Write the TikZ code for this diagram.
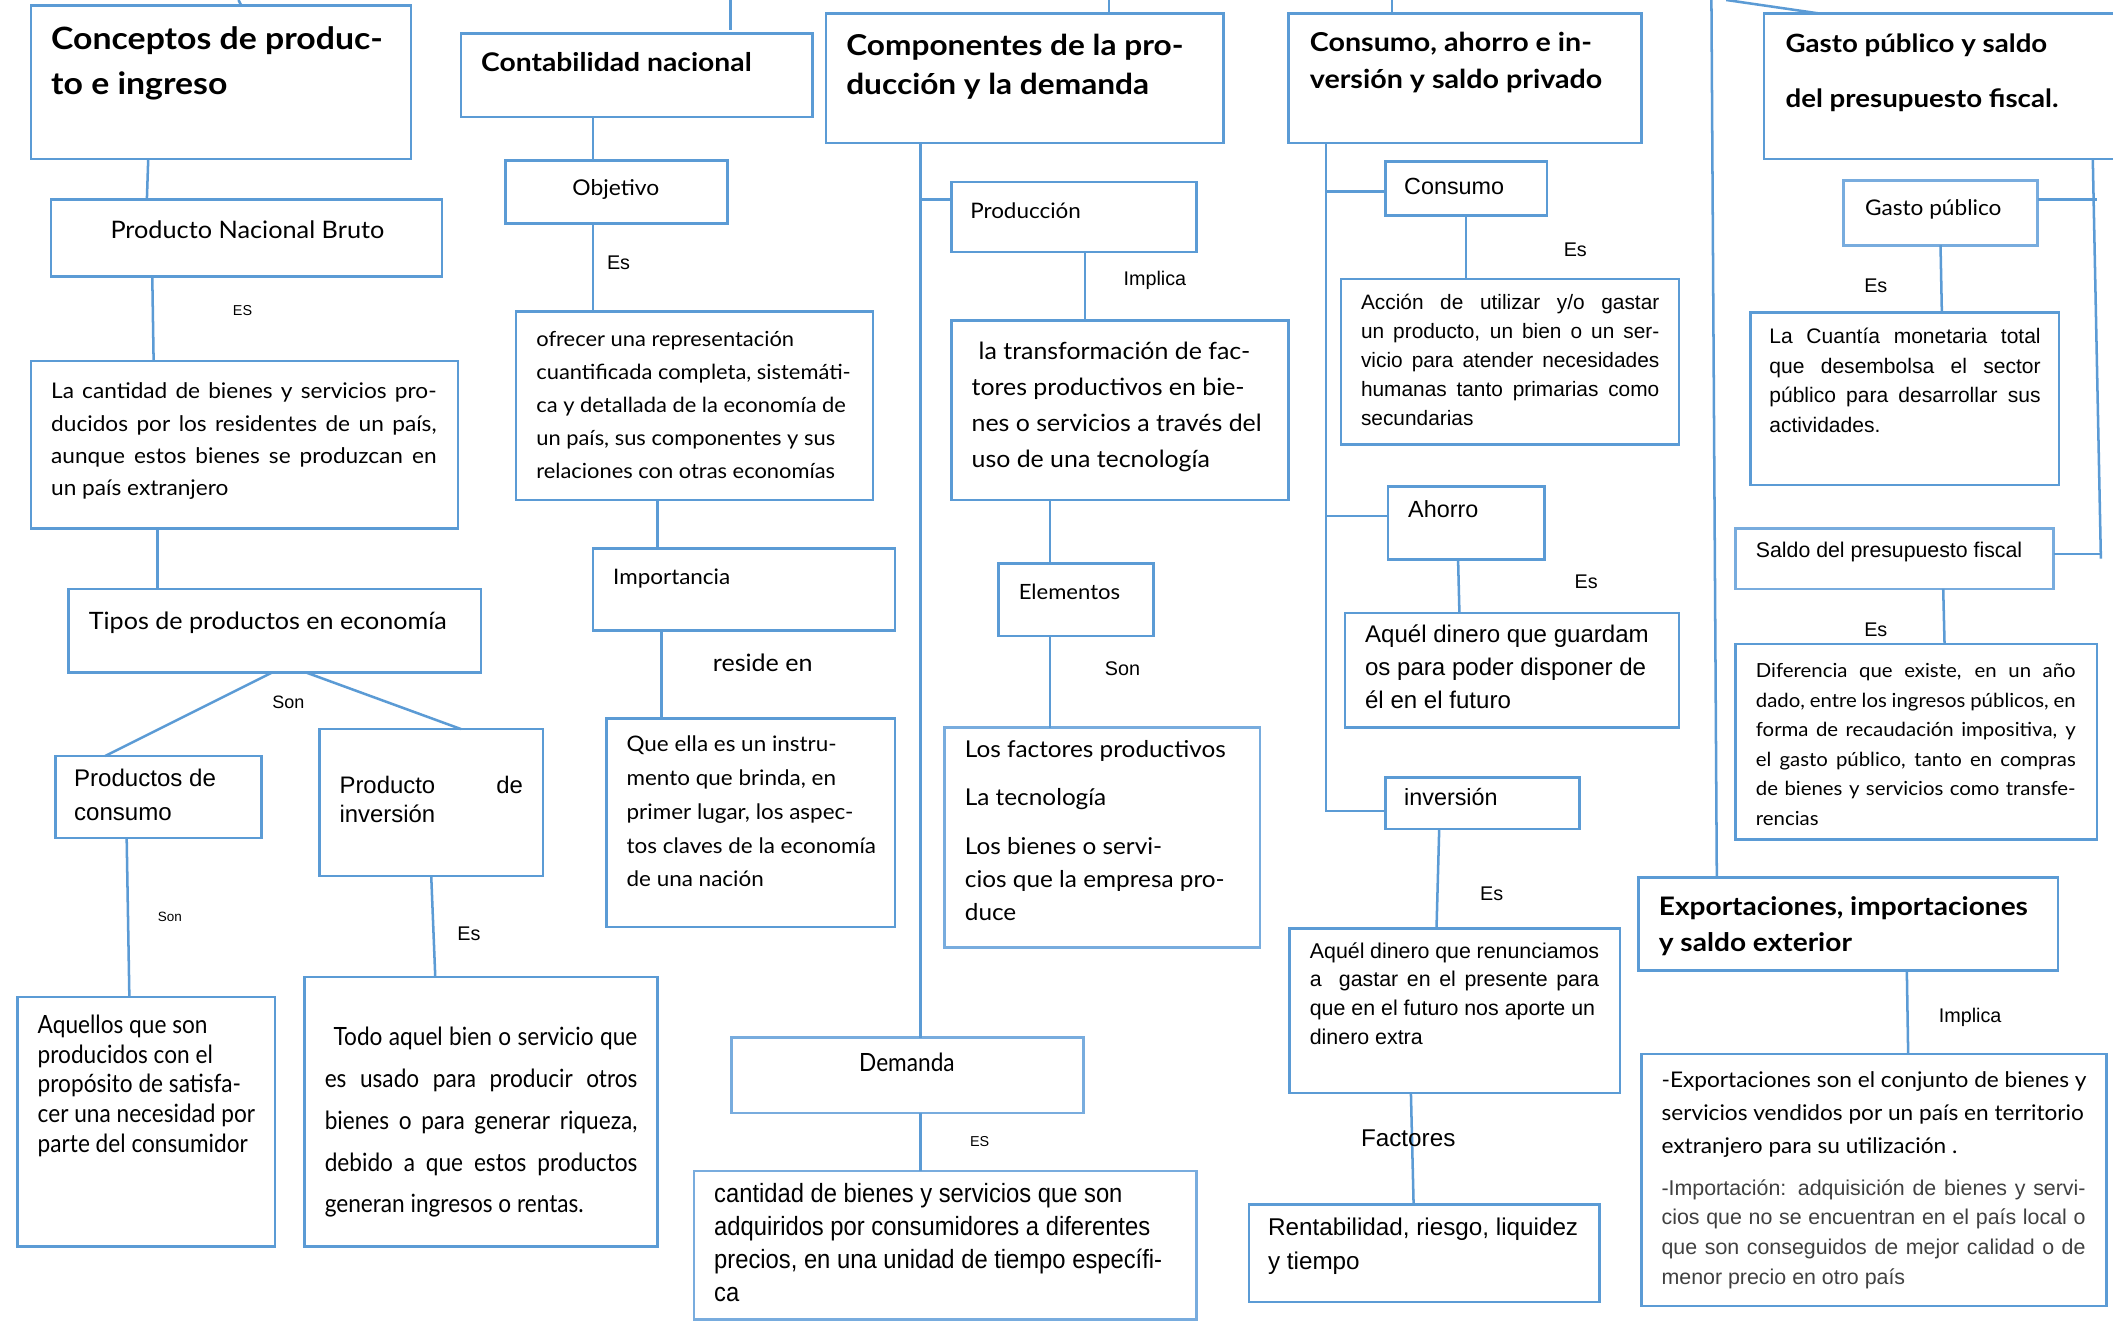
\documentclass[tikz,border=0pt]{standalone}
\usepackage{fontspec}
\setmainfont{Lato}
\newfontfamily\gil[FakeStretch=1.05]{Lato}
\newfontfamily\gb[FakeStretch=1.1]{Lato}
\newfontfamily\gnr[FakeStretch=0.9]{Lato}
\newfontfamily\ar{Liberation Sans}
\newfontfamily\arn[FakeStretch=0.9]{Liberation Sans}
\usetikzlibrary{fit,calc}
\definecolor{bl}{RGB}{91,155,213}
\definecolor{bll}{RGB}{120,172,222}
\definecolor{gry}{RGB}{64,64,64}
\newcommand{\fsz}[1]{\fontsize{#1}{#1}\selectfont}
\newcommand{\jl}[1]{\makebox[\linewidth][s]{#1}}
\newcommand{\tbk}[3]{\parbox[t]{#1}{\raggedright\setlength{\baselineskip}{#2}#3}}
\begin{document}
\begin{tikzpicture}[x=0.75pt,y=-0.75pt,
  bx/.style={draw=bl,line width=1.4pt,inner sep=0pt,outer sep=0pt},
  bxl/.style={bx,draw=bll},
  ln/.style={draw=bl,line width=1.4pt},
  tx/.style={anchor=base west,inner sep=0pt,outer sep=0pt},
  lab/.style={anchor=base,inner sep=0pt,outer sep=0pt}]
\useasboundingbox (0,0) rectangle (1568,980);
\clip (0,0) rectangle (1568,980);
\fill[white] (0,0) rectangle (1568,980);

% ---------- column 1
\node[bx,fit={(23,4)(305,118)}] (c1) {};
\node[tx,font=\gb\bfseries\fsz{17.1}] (c1t) at (38,37) {\tbk{250pt}{24.75pt}{Conceptos de produc-\\to e ingreso}};
\node[bx,fit={(38,148)(328,205)}] (pnb) {};
\node[tx,font=\gil\fsz{13.4}] (pnbt) at (82,177) {Producto Nacional Bruto};
\node[lab,font=\ar\fsz{8}] (es1) at (180,234) {ES};
\node[bx,fit={(23,268)(340,392)}] (pnbd) {};
\node[tx,font=\gil\fsz{12}] (pnbdt) at (38,296) {\tbk{214.5pt}{18pt}{\jl{La cantidad de bienes y servicios pro-}\\\jl{ducidos por los residentes de un país,}\\\jl{aunque estos bienes se produzcan en}\\un país extranjero}};
\node[bx,fit={(51,437)(357,499)}] (tip) {};
\node[tx,font=\gil\fsz{13.3}] (tipt) at (66,467) {Tipos de productos en economía};
\node[lab,font=\ar\fsz{10}] (son1) at (214,526) {Son};
\node[bx,fit={(41,561)(194,622)}] (pc) {};
\node[tx,font=\ar\fsz{13.4}] (pct) at (55,584) {\tbk{110pt}{18.75pt}{Productos de\\consumo}};
\node[bx,fit={(237,541)(403,650)}] (pi) {};
\node[tx,font=\ar\fsz{13.3}] (pit) at (252,589) {\tbk{102pt}{15.75pt}{\jl{Producto de}\\inversión}};
\node[lab,font=\ar\fsz{7.5}] (son2) at (126,684) {Son};
\node[bx,fit={(13,740)(204,925)}] (aq) {};
\node[tx,font=\gnr\fsz{14}] (aqt) at (28,767) {\tbk{135pt}{16.5pt}{Aquellos que son\\producidos con el\\propósito de satisfa-\\cer una necesidad por\\parte del consumidor}};
\node[lab,font=\ar\fsz{11}] (es2) at (348,698) {Es};
\node[bx,fit={(226,725)(488,925)}] (td) {};
\node[tx,font=\gnr\fsz{14}] (tdt) at (241,776) {\tbk{174pt}{23.25pt}{\jl{\hspace*{0.35em}Todo aquel bien o servicio que}\\\jl{es usado para producir otros}\\\jl{bienes o para generar riqueza,}\\\jl{debido a que estos productos}\\generan ingresos o rentas.}};

\coordinate (t0) at (177,0);
\draw[ln] (t0) -- (179,0 |- c1.north);
\draw[ln] (110,0 |- c1.south) -- (109,0 |- pnb.north);
\draw[ln] (113,0 |- pnb.south) -- (114,0 |- pnbd.north);
\draw[ln] (117,0 |- pnbd.south) -- (117,0 |- tip.north);
\draw[ln] (202,0 |- tip.south) -- (78,0 |- pc.north);
\draw[ln] (227,0 |- tip.south) -- (342,0 |- pi.north);
\draw[ln] (94,0 |- pc.south) -- (96,0 |- aq.north);
\draw[ln] (320,0 |- pi.south) -- (323,0 |- td.north);

% ---------- column 2
\node[bx,fit={(342,25)(603,87)}] (cn) {};
\node[tx,font=\gb\bfseries\fsz{14.3}] (cnt) at (357,53) {Contabilidad nacional};
\node[bx,fit={(375,119)(540,166)}] (ob) {};
\node[lab,font=\gil\fsz{12.1}] (obt) at (457,145) {Objetivo};
\node[lab,font=\ar\fsz{11}] (es3) at (459,200) {Es};
\node[bx,fit={(383,231)(648,371)}] (of) {};
\node[tx,font=\gil\fsz{11.6}] (oft) at (398,257) {\tbk{190pt}{18.4pt}{ofrecer una representación\\cuantificada completa, sistemáti-\\ca y detallada de la economía de\\un país, sus componentes y sus\\relaciones con otras economías}};
\node[bx,fit={(440,407)(664,468)}] (im) {};
\node[tx,font=\gil\fsz{11.9}] (imt) at (455,434) {Importancia};
\node[lab,font=\gil\fsz{13.3}] (res) at (566,498) {reside en};
\node[bx,fit={(450,533)(664,688)}] (qu) {};
\node[tx,font=\gil\fsz{11.9}] (qut) at (465,558) {\tbk{150pt}{18.75pt}{Que ella es un instru-\\mento que brinda, en\\primer lugar, los aspec-\\tos claves de la economía\\de una nación}};

\coordinate (t1) at (542,0);
\coordinate (t1e) at (542,22);
\draw[ln] (t1) -- (t1e);
\draw[ln] (440,0 |- cn.south) -- (440,0 |- ob.north);
\draw[ln] (440,0 |- ob.south) -- (440,0 |- of.north);
\draw[ln] (488,0 |- of.south) -- (488,0 |- im.north);
\draw[ln] (491,0 |- im.south) -- (491,0 |- qu.north);

% ---------- column 3
\node[bx,fit={(613,10)(908,106)}] (cp) {};
\node[tx,font=\gb\bfseries\fsz{16}] (cpt) at (628,41) {\tbk{270pt}{21.75pt}{Componentes de la pro-\\ducción y la demanda}};
\node[bx,fit={(706,135)(888,187)}] (pr) {};
\node[tx,font=\gil\fsz{11.9}] (prt) at (720,162) {Producción};
\node[lab,font=\ar\fsz{11}] (imp1) at (857,212) {Implica};
\node[bx,fit={(706,238)(956,371)}] (tr) {};
\node[tx,font=\gil\fsz{13.2}] (trt) at (721,267) {\tbk{180pt}{20pt}{\hspace*{0.3em}la transformación de fac-\\tores productivos en bie-\\nes o servicios a través del\\uso de una tecnología}};
\node[bx,fit={(741,418)(856,472)}] (el) {};
\node[tx,font=\gil\fsz{11.7}] (elt) at (756,445) {Elementos};
\node[lab,font=\ar\fsz{11}] (son3) at (833,501) {Son};
\node[bxl,fit={(701,540)(935,703)}] (fa) {};
\node[tx,font=\gil\fsz{12.9}] (fat) at (716,562) {\tbk{170pt}{18.5pt}{Los factores productivos\\[8.5pt]La tecnología\\[8.5pt]Los bienes o servi-\\cios que la empresa pro-\\duce}};
\node[bxl,fit={(543,770)(804,826)}] (de) {};
\node[lab,font=\gnr\fsz{14}] (det) at (673,795) {Demanda};
\node[lab,font=\ar\fsz{8}] (es4) at (727,851) {ES};
\node[bxl,fit={(515,869)(888,979)}] (ca) {};
\node[tx,font=\arn\fsz{14.7}] (cat) at (530,892) {\tbk{270pt}{18.4pt}{cantidad de bienes y servicios que son\\adquiridos por consumidores a diferentes\\precios, en una unidad de tiempo específi-\\ca}};

\coordinate (t2) at (823,0);
\draw[ln] (t2) -- (823,0 |- cp.north);
\draw[ln] (683,0 |- cp.south) -- (683,0 |- de.north);
\draw[ln] (683,148) -- (pr.west |- 0,148);
\draw[ln] (805,0 |- pr.south) -- (805,0 |- tr.north);
\draw[ln] (779,0 |- tr.south) -- (779,0 |- el.north);
\draw[ln] (779,0 |- el.south) -- (779,0 |- fa.north);
\draw[ln] (683,0 |- de.south) -- (683,0 |- ca.north);

% ---------- column 4
\node[bx,fit={(956,10)(1218,106)}] (cs) {};
\node[tx,font=\gb\bfseries\fsz{14.5}] (cst) at (972,38) {\tbk{250pt}{21pt}{Consumo, ahorro e in-\\versión y saldo privado}};
\node[bx,fit={(1028,120)(1148,160)}] (co) {};
\node[tx,font=\ar\fsz{13}] (cot) at (1042,144) {Consumo};
\node[lab,font=\ar\fsz{11}] (es5) at (1169,190) {Es};
\node[bx,fit={(995,207)(1246,330)}] (ac) {};
\node[tx,font=\ar\fsz{11.6}] (act) at (1010,230) {\tbk{166pt}{16.1pt}{\jl{Acción de utilizar y/o gastar}\\\jl{un producto, un bien o un ser-}\\\jl{vicio para atender necesidades}\\\jl{humanas tanto primarias como}\\secundarias}};
\node[bx,fit={(1030,361)(1146,415)}] (ah) {};
\node[tx,font=\ar\fsz{13}] (aht) at (1045,384) {Ahorro};
\node[lab,font=\ar\fsz{11}] (es6) at (1177,437) {Es};
\node[bx,fit={(998,455)(1246,540)}] (ag) {};
\node[tx,font=\ar\fsz{13.4}] (agt) at (1013,477) {\tbk{175pt}{18.4pt}{Aquél dinero que guardam\\os para poder disponer de\\él en el futuro}};
\node[bx,fit={(1028,577)(1172,615)}] (inv) {};
\node[tx,font=\ar\fsz{13}] (invt) at (1042,598) {inversión};
\node[lab,font=\ar\fsz{11}] (es7) at (1107,668) {Es};
\node[bx,fit={(957,689)(1202,811)}] (re) {};
\node[tx,font=\ar\fsz{11.9}] (ret) at (972,711) {\tbk{161pt}{16pt}{Aquél dinero que renunciamos\\\jl{a\ \ gastar en el presente para}\\que en el futuro nos aporte un\\dinero extra}};
\node[bx,fit={(927,894)(1187,966)}] (rn) {};
\node[tx,font=\ar\fsz{13.5}] (rnt) at (941,917) {\tbk{190pt}{18.75pt}{Rentabilidad, riesgo, liquidez\\y tiempo}};

\coordinate (t3) at (1033,0);
\draw[ln] (t3) -- (1033,0 |- cs.north);
\draw[ln] (984,0 |- cs.south) -- (984,602) -- (inv.west |- 0,602);
\draw[ln] (984,142) -- (co.west |- 0,142);
\draw[ln] (984,383) -- (ah.west |- 0,383);
\draw[ln] (1088,0 |- co.south) -- (1088,0 |- ac.north);
\draw[ln] (1082,0 |- ah.south) -- (1083,0 |- ag.north);
\draw[ln] (1068,0 |- inv.south) -- (1066,0 |- re.north);
\draw[ln] (1047,0 |- re.south) -- (1049,0 |- rn.north);
\node[lab,font=\ar\fsz{13.5}] (fac) at (1045,851) {Factores};

% ---------- column 5
\node[bx,fit={(1309,10)(1580,118)}] (gt) {};
\node[tx,font=\gb\bfseries\fsz{14}] (gtt) at (1325,39) {\tbk{230pt}{30.75pt}{Gasto público y saldo\\del presupuesto fiscal.}};
\node[bxl,fit={(1368,134)(1512,182)}] (gp) {};
\node[tx,font=\gil\fsz{12}] (gpt) at (1384,160) {Gasto público};
\node[lab,font=\ar\fsz{11}] (es8) at (1392,217) {Es};
\node[bx,fit={(1299,232)(1528,360)}] (cu) {};
\node[tx,font=\ar\fsz{11.7}] (cut) at (1313,255) {\tbk{151pt}{16.5pt}{\jl{La Cuantía monetaria total}\\\jl{que desembolsa el sector}\\\jl{público para desarrollar sus}\\actividades.}};
\node[bxl,fit={(1288,392)(1524,437)}] (sa) {};
\node[tx,font=\ar\fsz{11.85}] (sat) at (1303,414) {Saldo del presupuesto fiscal};
\node[lab,font=\ar\fsz{11}] (es9) at (1392,472) {Es};
\node[bx,fit={(1288,478)(1556,623)}] (di) {};
\node[tx,font=\gil\fsz{10.8}] (dit) at (1303,503) {\tbk{178pt}{16.4pt}{\jl{Diferencia que existe, en un año}\\\jl{dado, entre los ingresos públicos, en}\\\jl{forma de recaudación impositiva, y}\\\jl{el gasto público, tanto en compras}\\\jl{de bienes y servicios como transfe-}\\rencias}};
\node[bx,fit={(1216,651)(1527,720)}] (ex) {};
\node[tx,font=\gb\bfseries\fsz{14.2}] (ext) at (1231,679) {\tbk{240pt}{20.25pt}{Exportaciones, importaciones\\y saldo exterior}};
\node[lab,font=\ar\fsz{11}] (imp2) at (1462,759) {Implica};
\node[bx,fit={(1218,782)(1563,969)}] (xp) {};
\node[tx,font=\gil\fsz{12}] (xpt) at (1233,807) {\tbk{250pt}{18.4pt}{-Exportaciones son el conjunto de bienes y\\servicios vendidos por un país en territorio\\extranjero para su utilización .}};
\node[tx,font=\ar\fsz{11.9},text=gry] (ipt) at (1233,887) {\tbk{236pt}{16.5pt}{\jl{-Importación: adquisición de bienes y servi-}\\\jl{cios que no se encuentran en el país local o}\\\jl{que son conseguidos de mejor calidad o de}\\menor precio en otro país}};

\coordinate (t4) at (1270,0);
\draw[ln] (t4) -- (1274,0 |- ex.north);
\coordinate (t5) at (1281,0);
\draw[ln] (t5) -- (1350,0 |- gt.north);
\draw[ln] (1553,0 |- gt.south) -- (1559,0 |- sa.east);
\draw[ln] (gp.east |- 0,148) -- (1556,148);
\draw[ln] (sa.east |- 0,411) -- (1558,411);
\draw[ln] (1440,0 |- gp.south) -- (1441,0 |- cu.north);
\draw[ln] (1442,0 |- sa.south) -- (1443,0 |- di.north);
\draw[ln] (1415,0 |- ex.south) -- (1416,0 |- xp.north);
\end{tikzpicture}
\end{document}
